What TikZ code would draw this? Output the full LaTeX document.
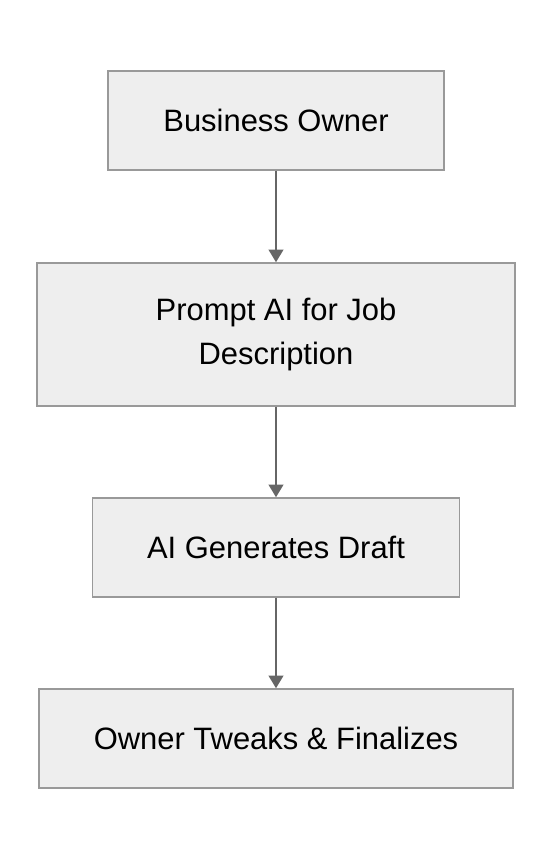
\documentclass[tikz,border=0pt]{standalone}
\usepackage{fontspec}
\setmainfont{Liberation Sans}
\usetikzlibrary{arrows.meta}
\definecolor{boxfill}{HTML}{EEEEEE}
\definecolor{boxline}{HTML}{999999}
\definecolor{arrowline}{HTML}{666666}

\begin{document}
\begin{tikzpicture}[x=0.75pt,y=-0.75pt,
		stepbox/.style={draw=boxline,fill=boxfill,line width=1.1pt,minimum height=74.25pt,
			align=center,font=\fontsize{23.2pt}{33pt}\selectfont,inner sep=0pt},
		flow/.style={draw=arrowline,line width=1.5pt,-{Triangle[width=11pt,length=9.5pt]}}]
			\useasboundingbox (0,0) rectangle (552,860);
			\node[stepbox,minimum width=252pt] (owner) at (276,120.5) {Business Owner};
			\node[stepbox,minimum width=358.5pt,minimum height=107.25pt] (prompt) at (276,334.5)
				{Prompt AI for Job\\Description};
			\node[stepbox,minimum width=275.25pt] (draft) at (276,547.5) {AI Generates Draft};
			\node[stepbox,minimum width=355.5pt] (final) at (276,738.5) {Owner Tweaks \& Finalizes};
			\draw[flow] (owner) -- (prompt);
			\draw[flow] (prompt) -- (draft);
			\draw[flow] (draft) -- (final);
		\end{tikzpicture}
\end{document}
